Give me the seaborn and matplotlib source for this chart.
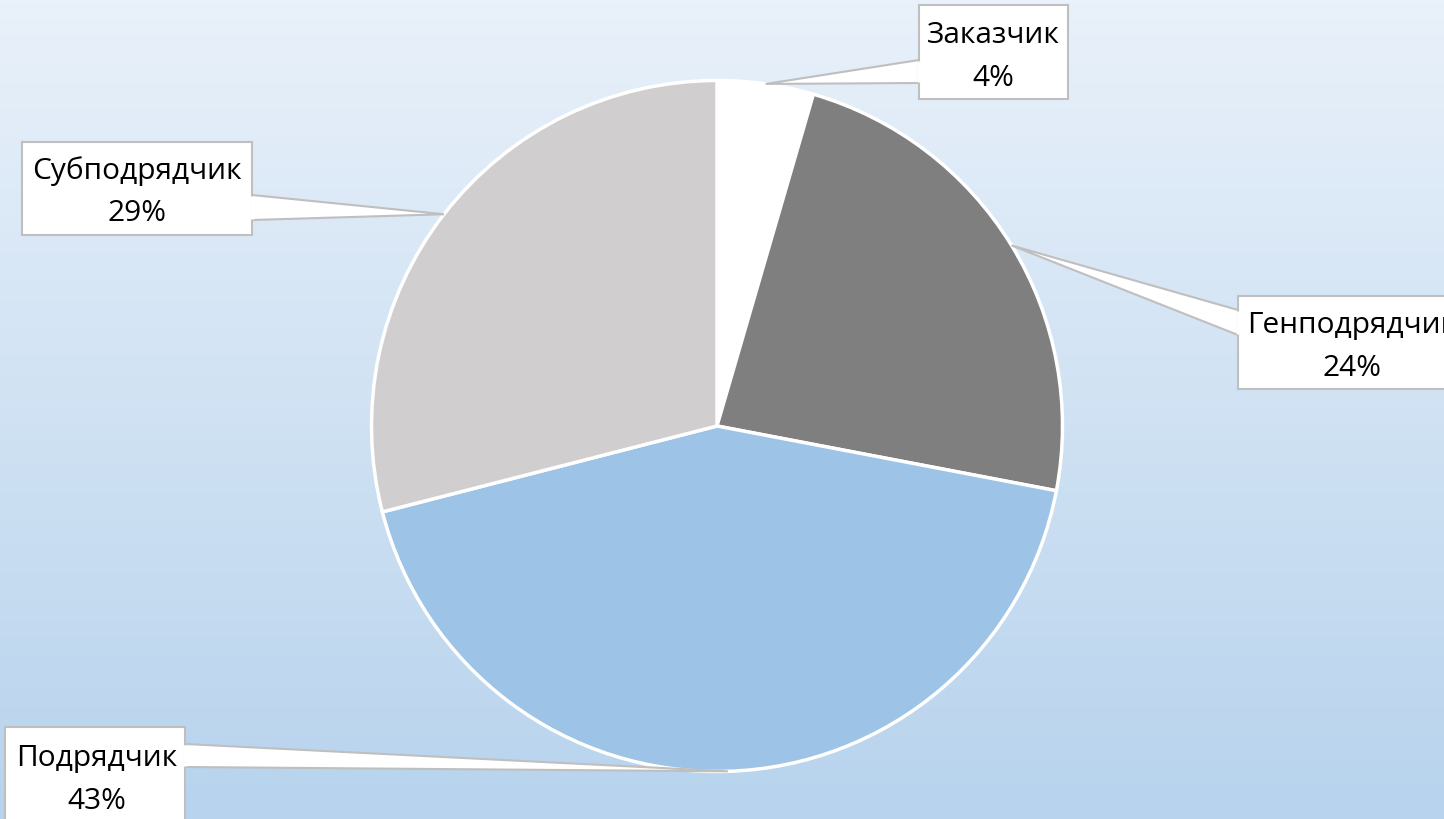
import numpy as np
import matplotlib
matplotlib.use("Agg")
import matplotlib.pyplot as plt
from matplotlib.colors import LinearSegmentedColormap
from matplotlib.patches import Polygon
import seaborn as sns

sns.set_theme(style="white")
plt.rcParams['font.family'] = ['Open Sans', 'DejaVu Sans']

# данные
categories = ['Заказчик', 'Генподрядчик', 'Подрядчик', 'Субподрядчик']
shares = [4.5, 23.5, 43, 29]          # оценка по углам секторов
pct_labels = ['4%', '24%', '43%', '29%']
slice_colors = ['#ffffff', '#7f7f7f', '#9dc3e6', '#d0cece']

W, H = 1444, 819
CX, CY, R = 717, H - 426, 345.5

# рамки подписей (x0, y0, x1, y1 в пикселях от верхнего левого угла)
label_boxes = {
    'Заказчик': (919, 5, 1068, 99),
    'Генподрядчик': (1238, 296, 1468, 389),
    'Подрядчик': (5, 727, 185, 830),
    'Субподрядчик': (22, 142, 252, 235),
}
# центр текста внутри рамки
text_pos = {
    'Заказчик': (993, 57),
    'Генподрядчик': (1352, 347),
    'Подрядчик': (97, 780),
    'Субподрядчик': (137, 192),
}
# где хвост выноски отходит от рамки: сторона и два y
tail_attach = {
    'Заказчик': ('left', 60, 83),
    'Генподрядчик': ('left', 310, 335),
    'Подрядчик': ('right', 744, 767),
    'Субподрядчик': ('right', 195, 220),
}

fig = plt.figure(figsize=(W / 100, H / 100), dpi=100)

# фон с градиентом
bg = fig.add_axes([0, 0, 1, 1])
cmap = LinearSegmentedColormap.from_list('bg', ['#e9f1fa', '#b7d3ed'])
bg.imshow(np.linspace(0, 1, 256).reshape(-1, 1), aspect='auto', cmap=cmap,
          extent=[0, 1, 0, 1], origin='upper')
bg.axis('off')

ax = fig.add_axes([0, 0, 1, 1])
ax.patch.set_alpha(0)
wedges, _ = ax.pie(shares, colors=slice_colors, startangle=90, counterclock=False,
                   center=(CX, CY), radius=R,
                   wedgeprops=dict(edgecolor='white', linewidth=2.5))
ax.set_xlim(0, W)
ax.set_ylim(0, H)
ax.set_aspect('equal')
ax.axis('off')

for w, name, pct in zip(wedges, categories, pct_labels):
    mid = np.deg2rad((w.theta1 + w.theta2) / 2)
    tip = (CX + R * np.cos(mid), CY + R * np.sin(mid))
    x0, y0, x1, y1 = label_boxes[name]
    side, ya, yb = tail_attach[name]
    xe = x0 if side == 'left' else x1
    tail = Polygon([(xe, H - ya), tip, (xe, H - yb)], closed=True,
                   facecolor='white', edgecolor='#bfbfbf', linewidth=1.5, zorder=4)
    ax.add_patch(tail)
    box = Polygon([(x0, H - y0), (x1, H - y0), (x1, H - y1), (x0, H - y1)], closed=True,
                  facecolor='white', edgecolor='#bfbfbf', linewidth=1.5, zorder=5)
    ax.add_patch(box)
    # убрать линию рамки в месте стыка с хвостом
    ax.plot([xe, xe], [H - ya - 1, H - yb + 1], color='white', linewidth=2.5, zorder=6,
            solid_capstyle='butt')
    xc, yc = text_pos[name]
    ax.text(xc, H - yc, f"{name}\n{pct}", ha='center', va='center',
            fontsize=21.5, color='#000000', linespacing=1.62, zorder=7)

fig.savefig('out.png', dpi=100)
